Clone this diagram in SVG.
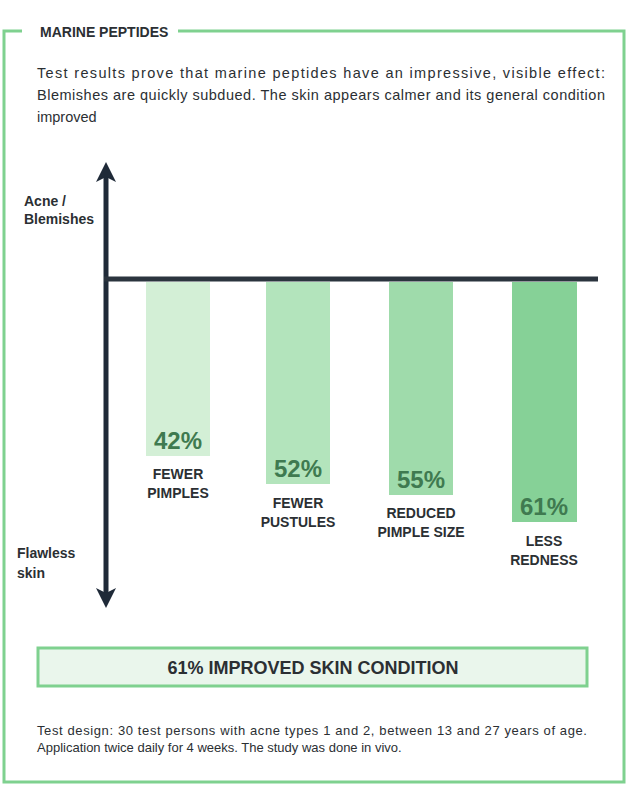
<svg xmlns="http://www.w3.org/2000/svg" width="630" height="792" viewBox="0 0 630 792">
<style>
.t{font-family:"Liberation Sans",Arial,sans-serif;fill:#2b2f33}
.b{font-weight:bold}
.pct{font-family:"Liberation Sans",Arial,sans-serif;font-weight:bold;font-size:24px;fill:#3f7a50;text-anchor:middle}
.lab{font-family:"Liberation Sans",Arial,sans-serif;font-weight:bold;font-size:14px;fill:#2b2f33;text-anchor:middle}
.frame{fill:none;stroke:#7fd18f;stroke-width:3}
</style>
<defs>
<marker id="ah" markerWidth="4" markerHeight="4" refX="2" refY="2" orient="auto" markerUnits="strokeWidth"><path d="M0,0 L4,2 L0,4 L1,2 Z" fill="#1f2a38"/></marker>
</defs>
<rect width="630" height="792" fill="#fff"/>
<path class="frame" d="M22,31 H4 V782 H624 V31 H178"/>
<text class="t b" x="40" y="37" font-size="14">MARINE PEPTIDES</text>
<g id="intro" class="t" font-size="14.5">
<text x="37" y="78" textLength="568" lengthAdjust="spacing">Test results prove that marine peptides have an impressive, visible effect:</text>
<text x="37" y="100" textLength="568" lengthAdjust="spacing">Blemishes are quickly subdued. The skin appears calmer and its general condition</text>
<text x="37" y="122">improved</text>
</g>
<g id="connectors">
<line x1="106" y1="279" x2="106" y2="172" stroke="#1f2a38" stroke-width="5" marker-end="url(#ah)"/>
<line x1="106" y1="279" x2="106" y2="598" stroke="#1f2a38" stroke-width="5" marker-end="url(#ah)"/>
<line x1="104" y1="279" x2="598" y2="279" stroke="#2b343e" stroke-width="5"/>
</g>
<g id="yaxis-labels" class="t b" font-size="14">
<text x="24" y="206">Acne /</text>
<text x="24" y="224">Blemishes</text>
<text x="17" y="558">Flawless</text>
<text x="17" y="578">skin</text>
</g>
<g id="bar1"><rect x="146" y="282" width="64" height="174" fill="#d3efd6"/><text class="pct" x="178" y="449">42%</text><text class="lab" x="178" y="479">FEWER</text><text class="lab" x="178" y="498">PIMPLES</text></g>
<g id="bar2"><rect x="266" y="282" width="64" height="202" fill="#b3e4bc"/><text class="pct" x="298" y="477">52%</text><text class="lab" x="298" y="508">FEWER</text><text class="lab" x="298" y="527">PUSTULES</text></g>
<g id="bar3"><rect x="389" y="282" width="64" height="213" fill="#9fdbab"/><text class="pct" x="421" y="488">55%</text><text class="lab" x="421" y="518">REDUCED</text><text class="lab" x="421" y="537">PIMPLE SIZE</text></g>
<g id="bar4"><rect x="512" y="282" width="65" height="240" fill="#86d197"/><text class="pct" x="544" y="515">61%</text><text class="lab" x="544" y="546">LESS</text><text class="lab" x="544" y="565">REDNESS</text></g>
<g id="summary"><rect x="38" y="648" width="549" height="38" fill="#eaf6ec" stroke="#7fd18f" stroke-width="3"/><text class="t b" x="313" y="674" font-size="18" text-anchor="middle">61% IMPROVED SKIN CONDITION</text></g>
<g id="footer" class="t" font-size="13">
<text x="37" y="735" textLength="550" lengthAdjust="spacing">Test design: 30 test persons with acne types 1 and 2, between 13 and 27 years of age.</text>
<text x="37" y="752">Application twice daily for 4 weeks. The study was done in vivo.</text>
</g>
</svg>
